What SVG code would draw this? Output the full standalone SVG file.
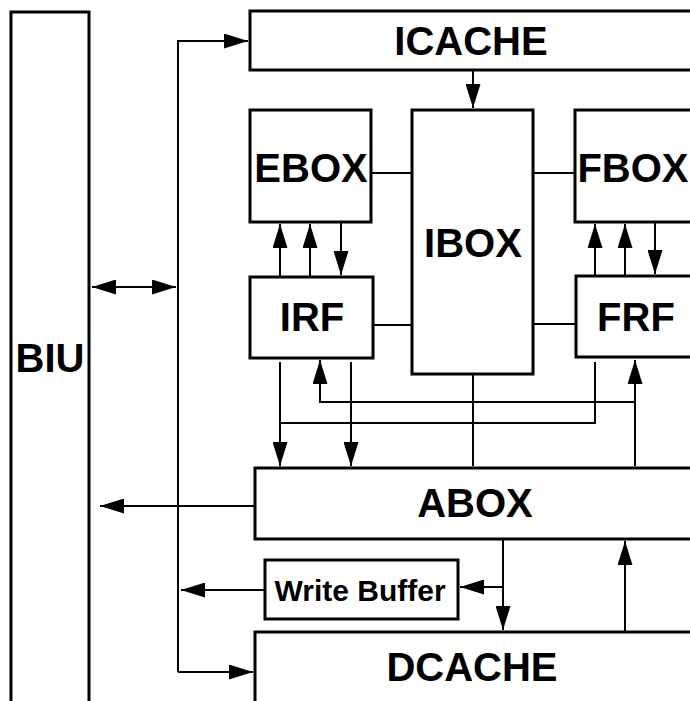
<svg xmlns="http://www.w3.org/2000/svg" width="690" height="701" viewBox="0 0 690 701">
<style>
.box{fill:#fff;stroke:#000;stroke-width:3}
.lbl{font-family:"Liberation Sans",Arial,sans-serif;font-weight:bold;font-size:40px;text-anchor:middle;fill:#000}
.sm{font-size:30px}
.c{fill:none;stroke:#000;stroke-width:2}
.a{marker-end:url(#ah)}
.b{marker-start:url(#ah);marker-end:url(#ah)}
</style>
<defs>
<marker id="ah" markerUnits="userSpaceOnUse" markerWidth="24" markerHeight="15" viewBox="0 0 24 15" refX="24" refY="7.5" orient="auto-start-reverse">
<path d="M0,0 L24,7.5 L0,15 z" fill="#000"/>
</marker>
</defs>
<rect width="690" height="701" fill="#fff"/>
<g id="BIU"><rect class="box" x="11" y="12" width="78" height="700"/><text class="lbl" x="50" y="372">BIU</text></g>
<g id="ICACHE"><rect class="box" x="250" y="11" width="460" height="59"/><text class="lbl" x="471" y="55">ICACHE</text></g>
<g id="EBOX"><rect class="box" x="250" y="110" width="121" height="112"/><text class="lbl" x="311" y="182">EBOX</text></g>
<g id="IBOX"><rect class="box" x="412" y="110" width="121" height="264"/><text class="lbl" x="473" y="257">IBOX</text></g>
<g id="FBOX"><rect class="box" x="575" y="110" width="135" height="112"/><text class="lbl" x="633" y="182">FBOX</text></g>
<g id="IRF"><rect class="box" x="250" y="277" width="123" height="81"/><text class="lbl" x="312" y="331">IRF</text></g>
<g id="FRF"><rect class="box" x="576" y="276" width="134" height="81"/><text class="lbl" x="636" y="331">FRF</text></g>
<g id="ABOX"><rect class="box" x="255" y="468" width="455" height="71"/><text class="lbl" x="475" y="517">ABOX</text></g>
<g id="WriteBuffer"><rect class="box" x="265" y="560" width="193" height="59"/><text class="lbl sm" x="360" y="601">Write Buffer</text></g>
<g id="DCACHE"><rect class="box" x="255" y="632" width="455" height="80"/><text class="lbl" x="472" y="681">DCACHE</text></g>
<g id="connectors">
<path class="c a" d="M178,672 V41 H248"/>
<path class="c a" d="M178,672 H253"/>
<path class="c b" d="M92,287 H176"/>
<path class="c a" d="M473,70 V108"/>
<path class="c" d="M371,173 H412 M533,173 H575 M373,325 H412 M533,324 H576"/>
<path class="c a" d="M280,277 V224"/>
<path class="c a" d="M310,277 V224"/>
<path class="c a" d="M341,223 V275"/>
<path class="c a" d="M595,276 V224"/>
<path class="c a" d="M625,276 V224"/>
<path class="c a" d="M655,223 V274"/>
<path class="c a" d="M280,362 V466"/>
<path class="c a" d="M351,362 V466"/>
<path class="c" d="M280,423 H595 V362"/>
<path class="c a" d="M635,466 V360"/>
<path class="c a" d="M635,402 H320 V360"/>
<path class="c" d="M473,374 V466"/>
<path class="c a" d="M255,506 H100"/>
<path class="c a" d="M503,540 V630"/>
<path class="c a" d="M503,587 H460"/>
<path class="c a" d="M265,590 H181"/>
<path class="c a" d="M625,632 V541"/>
</g>
</svg>
